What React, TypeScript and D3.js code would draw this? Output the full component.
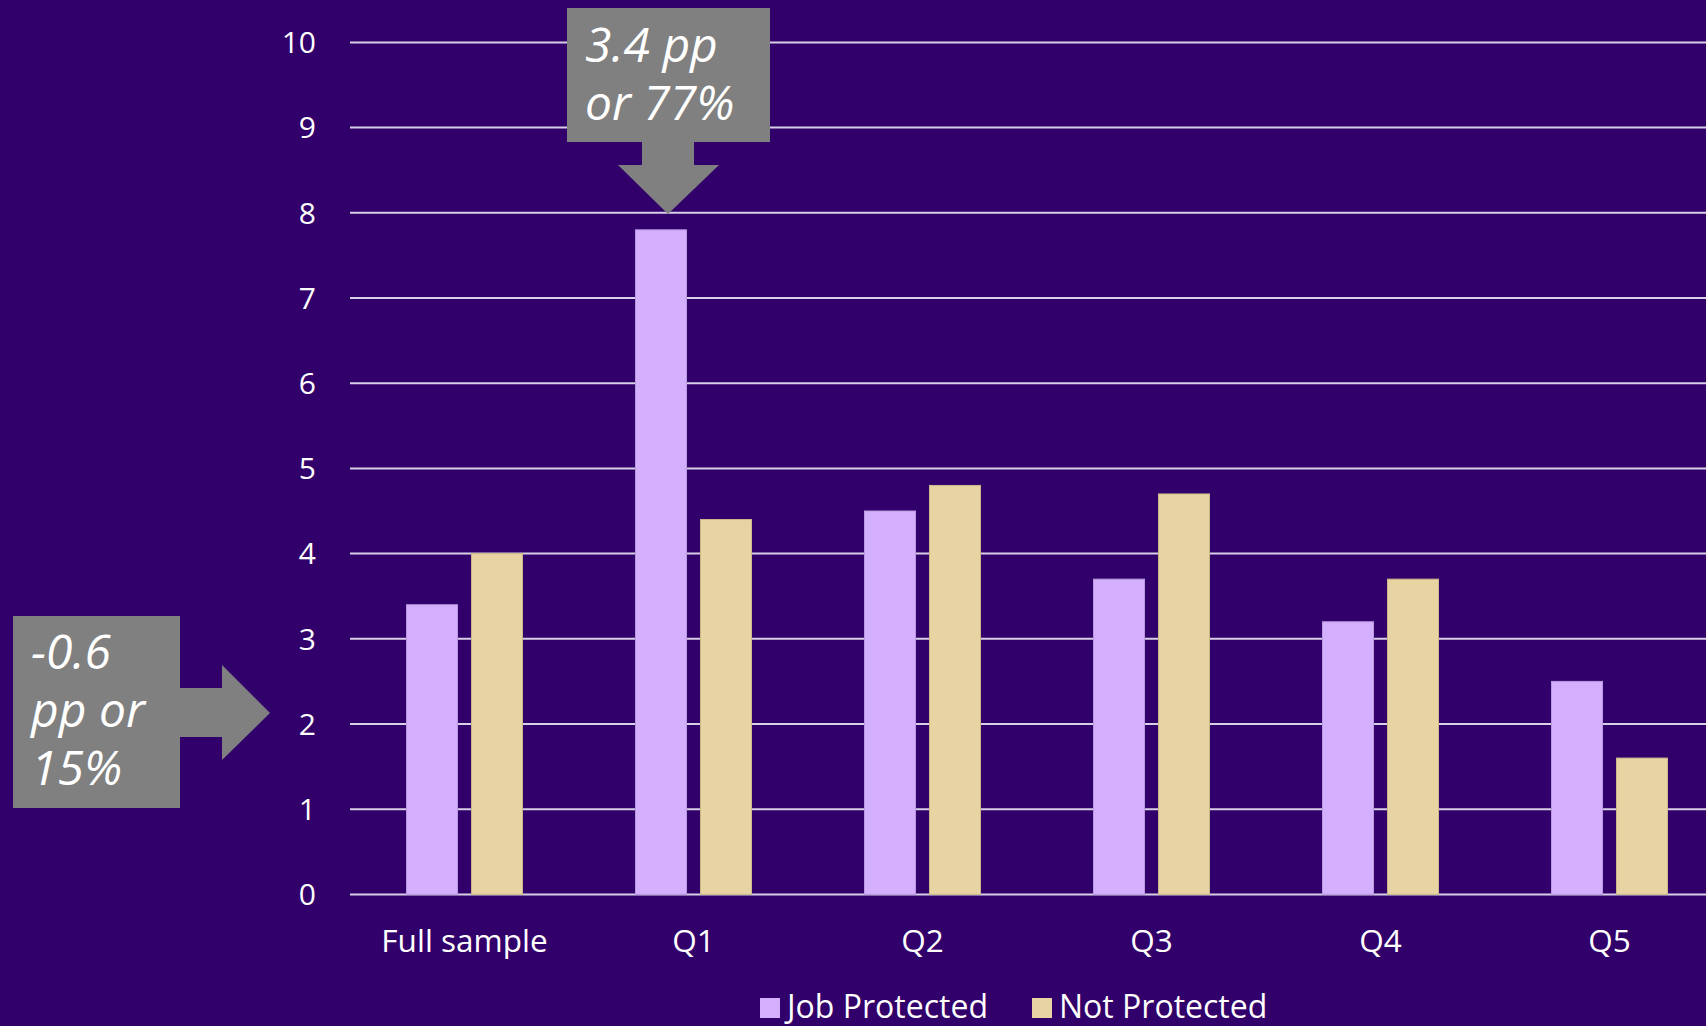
import { useEffect, useRef } from "react";
import * as d3 from "d3";

const categories = ["Full sample", "Q1", "Q2", "Q3", "Q4", "Q5"];
const jobProtected = [3.4, 7.8, 4.5, 3.7, 3.2, 2.5];
const notProtected = [4.0, 4.4, 4.8, 4.7, 3.7, 1.6];
const seriesNames = ["Job Protected", "Not Protected"];
const seriesColors = ["#d4affd", "#e8d3a2"];
const yTicks = [0, 1, 2, 3, 4, 5, 6, 7, 8, 9, 10];

const WIDTH = 1706;
const HEIGHT = 1026;
const FONT = "'Open Sans', 'Noto Sans', sans-serif";

export default function App() {
  const svgRef = useRef<SVGSVGElement>(null);

  useEffect(() => {
    if (!svgRef.current) return;
    const svg = d3.select(svgRef.current);
    svg.selectAll("*").remove();

    svg.append("rect").attr("width", WIDTH).attr("height", HEIGHT).attr("fill", "#32006a");

    const x = d3.scaleBand<string>().domain(categories).range([350, 350 + 229 * 6]).padding(0);
    const inner = d3.scaleBand<string>().domain(seriesNames).range([56.5, 229 - 56.5]).paddingInner(0.215);
    const y = d3.scaleLinear().domain([0, 10]).range([894.4, 42.4]);

    // gridlines
    svg
      .append("g")
      .selectAll("line")
      .data(yTicks)
      .join("line")
      .attr("x1", 350)
      .attr("x2", WIDTH)
      .attr("y1", (d) => y(d))
      .attr("y2", (d) => y(d))
      .attr("stroke", "#d8d0e6")
      .attr("stroke-width", 2);

    // y labels
    svg
      .append("g")
      .selectAll("text")
      .data(yTicks)
      .join("text")
      .attr("x", 316)
      .attr("y", (d) => y(d))
      .attr("dy", "0.36em")
      .attr("text-anchor", "end")
      .attr("font-family", FONT)
      .attr("font-size", 30)
      .attr("fill", "#ffffff")
      .text((d) => d);

    // bars
    const series = [jobProtected, notProtected];
    const groups = svg
      .append("g")
      .selectAll("g")
      .data(categories)
      .join("g")
      .attr("transform", (d) => `translate(${x(d)},0)`);

    groups
      .selectAll("rect")
      .data((_, i) => seriesNames.map((s, k) => ({ s, v: series[k][i], k })))
      .join("rect")
      .attr("x", (d) => inner(d.s)!)
      .attr("width", inner.bandwidth())
      .attr("y", (d) => y(d.v))
      .attr("height", (d) => y(0) - y(d.v))
      .attr("fill", (d) => seriesColors[d.k])
      .attr("stroke", (d) => (d.k === 0 ? "#b89ae0" : "#cbb88c"))
      .attr("stroke-width", 1);

    // category labels
    svg
      .append("g")
      .selectAll("text")
      .data(categories)
      .join("text")
      .attr("x", (d) => x(d)! + x.bandwidth() / 2)
      .attr("y", 952)
      .attr("text-anchor", "middle")
      .attr("font-family", FONT)
      .attr("font-size", 31.5)
      .attr("fill", "#ffffff")
      .text((d) => d);

    // legend
    const legendX = [760, 1032];
    const lg = svg
      .append("g")
      .selectAll("g")
      .data(seriesNames)
      .join("g")
      .attr("transform", (_, i) => `translate(${legendX[i]},0)`);
    lg.append("rect").attr("x", 0).attr("y", 998).attr("width", 20).attr("height", 20).attr("fill", (_, i) => seriesColors[i]);
    lg.append("text")
      .attr("x", 27)
      .attr("y", 1018)
      .attr("font-family", FONT)
      .attr("font-size", 32)
      .attr("fill", "#ffffff")
      .text((d) => d);

    const gray = "#808080";

    // callout 1 (down arrow)
    svg
      .append("path")
      .attr(
        "d",
        "M567,8 L770,8 L770,142 L694,142 L694,165 L719,165 L668,214 L618,165 L642,165 L642,142 L567,142 Z"
      )
      .attr("fill", gray);
    const t1 = svg
      .append("text")
      .attr("font-family", FONT)
      .attr("font-style", "italic")
      .attr("font-size", 48)
      .attr("fill", "#ffffff");
    t1.append("tspan").attr("x", 585).attr("y", 62).text("3.4 pp");
    t1.append("tspan").attr("x", 585).attr("y", 120).text("or 77%");

    // callout 2 (right arrow)
    svg
      .append("path")
      .attr(
        "d",
        "M13,616 L180,616 L180,688 L222,688 L222,665 L270,713 L222,760 L222,737 L180,737 L180,808 L13,808 Z"
      )
      .attr("fill", gray);
    const t2 = svg
      .append("text")
      .attr("font-family", FONT)
      .attr("font-style", "italic")
      .attr("font-size", 48)
      .attr("fill", "#ffffff");
    t2.append("tspan").attr("x", 31).attr("y", 669).text("-0.6");
    t2.append("tspan").attr("x", 31).attr("y", 727).text("pp or");
    t2.append("tspan").attr("x", 31).attr("y", 785).text("15%");
  }, []);

  return (
    <svg
      ref={svgRef}
      width={WIDTH}
      height={HEIGHT}
      style={{ position: "absolute", left: 0, top: 0, display: "block" }}
    />
  );
}
